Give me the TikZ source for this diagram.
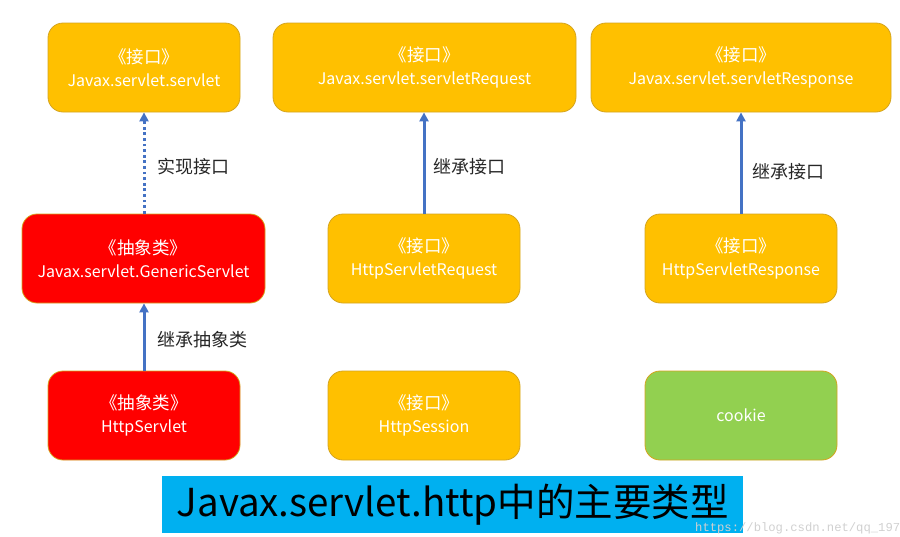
\documentclass[tikz,border=0pt]{standalone}
\usepackage{fontspec}
\setmainfont{Noto Sans CJK SC}
\newfontfamily\wmfont{Liberation Mono}
\usetikzlibrary{arrows.meta}
\definecolor{boxorange}{HTML}{FFC000}
\definecolor{boxred}{HTML}{FF0000}
\definecolor{boxgreen}{HTML}{92D050}
\definecolor{boxedge}{HTML}{D4A420}
\definecolor{arrowblue}{HTML}{4472C4}
\definecolor{titlebg}{HTML}{00B0F0}
\definecolor{labelgray}{HTML}{262626}
\definecolor{wmgray}{HTML}{D0D0D0}
\newcommand{\cjkline}[1]{{\fontsize{17.5}{23}\selectfont #1}}
\tikzset{
  boxbase/.style={draw=boxedge, line width=0.8pt, rounded corners=15pt, minimum height=89pt,
    text=white, align=center, inner sep=0pt,
    font=\fontsize{16}{23}\selectfont},
  orangebox/.style={boxbase, fill=boxorange},
  redbox/.style={boxbase, fill=boxred},
  greenbox/.style={boxbase, fill=boxgreen},
  arr/.style={draw=arrowblue, line width=3pt, -{Triangle[length=9pt,width=9pt]}},
  dotarr/.style={draw=arrowblue, line width=3pt, dash pattern=on 2.8pt off 2.8pt, -{Triangle[length=9pt,width=9pt]}},
  lbl/.style={text=labelgray, anchor=west, inner sep=0pt, font=\fontsize{18}{20}\selectfont},
}
\begin{document}
\begin{tikzpicture}[x=1pt, y=-1pt]
\useasboundingbox (0,0) rectangle (900,536);
% top row
\node[orangebox, minimum width=192pt] (servlet) at (144,67.5) {\cjkline{《接口》}\\Javax.servlet.servlet};
\node[orangebox, minimum width=303pt] (sreq) at (424.5,67.5) {\cjkline{《接口》}\\Javax.servlet.servletRequest};
\node[orangebox, minimum width=300pt] (sresp) at (741,67.5) {\cjkline{《接口》}\\Javax.servlet.servletResponse};
% middle row
\node[redbox, minimum width=243pt] (generic) at (143.5,258.5) {\cjkline{《抽象类》}\\Javax.servlet.GenericServlet};
\node[orangebox, minimum width=192pt] (hreq) at (424,258.5) {\cjkline{《接口》}\\HttpServletRequest};
\node[orangebox, minimum width=192pt] (hresp) at (741,258.5) {\cjkline{《接口》}\\HttpServletResponse};
% bottom row
\node[redbox, minimum width=192pt] (hservlet) at (144,415.5) {\cjkline{《抽象类》}\\HttpServlet};
\node[orangebox, minimum width=192pt] (hsession) at (424,415.5) {\cjkline{《接口》}\\HttpSession};
\node[greenbox, minimum width=192pt] (cookie) at (741,415.5) {cookie};
% connectors
\draw[dotarr] (generic.north -| servlet.south) -- (servlet.south);
\draw[arr] (hreq.north) -- (hreq.north |- sreq.south);
\draw[arr] (hresp.north) -- (hresp.north |- sresp.south);
\draw[arr] (hservlet.north) -- (hservlet.north |- generic.south);
% labels
\node[lbl] (l1) at (157,167) {实现接口};
\node[lbl] (l2) at (433,167) {继承接口};
\node[lbl] (l3) at (752,172) {继承接口};
\node[lbl] (l4) at (157,340) {继承抽象类};
% title
\node[fill=titlebg, minimum width=581pt, minimum height=57pt, inner sep=0pt, anchor=north west,
  font=\fontsize{38.5}{40}\selectfont, text=black] (title) at (162,476) {Javax.servlet.http中的主要类型};
% watermark
\node[anchor=south west, inner sep=0pt, text=wmgray, font=\wmfont\fontsize{12.2}{13}\selectfont] (wm) at (695,534) {https://blog.csdn.net/qq\_197};
\end{tikzpicture}
\end{document}
